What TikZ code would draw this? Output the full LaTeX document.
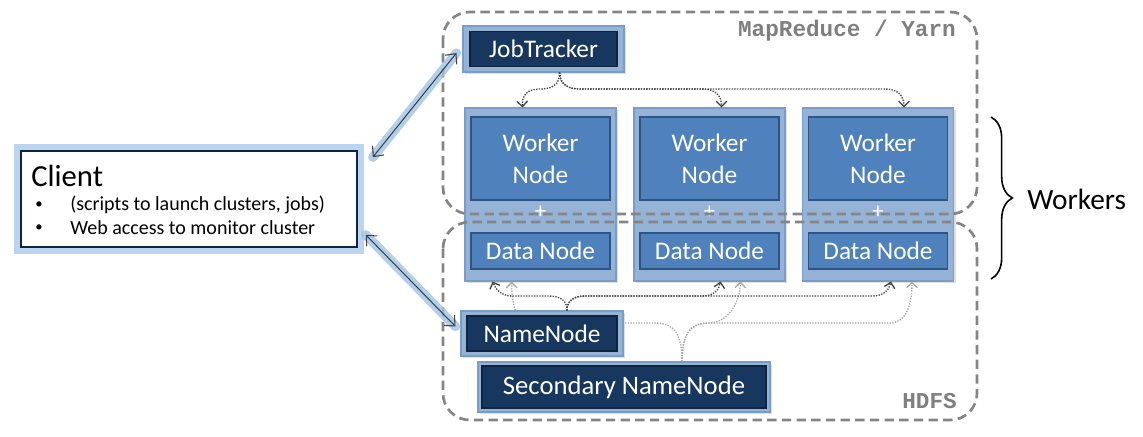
\documentclass[tikz,border=0pt]{standalone}
\usepackage{fontspec}
\setmainfont{Carlito}
\newfontfamily\codefont{Liberation Mono}
\usetikzlibrary{arrows.meta,calc,shadows,decorations.pathreplacing}
\definecolor{lightfill}{HTML}{95B3D7}
\definecolor{lightborder}{HTML}{7A9CC6}
\definecolor{midfill}{HTML}{4F81BD}
\definecolor{midborder}{HTML}{2F5383}
\definecolor{navy}{HTML}{17375E}
\definecolor{navyborder}{HTML}{0F243E}
\definecolor{dashgray}{HTML}{858585}
\definecolor{dotdark}{HTML}{404040}
\definecolor{dotlight}{HTML}{A6A6A6}
\definecolor{glowblue}{HTML}{9DC3E6}
\definecolor{labelgray}{HTML}{7F7F7F}
\begin{document}
\begin{tikzpicture}[x=0.75pt,y=-0.75pt,
  outerbox/.style={draw=lightborder, fill=lightfill, line width=0.8pt, inner sep=0pt,
    drop shadow={shadow xshift=1.5pt,shadow yshift=-1.5pt,opacity=0.25}},
  midbox/.style={draw=midborder, fill=midfill, line width=0.8pt, inner sep=0pt, text=white,
    font=\fontsize{19}{24}\selectfont, align=center},
  navybox/.style={draw=navyborder, fill=navy, line width=0.8pt, inner sep=0pt, text=white,
    font=\fontsize{19}{24}\selectfont},
  regionbox/.style={draw=dashgray, line width=2pt, dash pattern=on 7pt off 4pt, rounded corners=20pt},
  regionlabel/.style={text=labelgray, font=\codefont\bfseries\fontsize{17}{20}\selectfont, inner sep=0pt},
  dk/.style={draw=dotdark, line width=1pt, densely dotted, -{Straight Barb[length=4pt,width=8pt]}},
  lt/.style={draw=dotlight, line width=1pt, densely dotted, -{Straight Barb[length=4pt,width=8pt]}},
  glowline/.style={draw=glowblue, line width=7pt, opacity=0.8, line cap=round},
  clientarrow/.style={draw=dotdark, line width=0.8pt, {Straight Barb[length=6pt,width=11pt]}-{Straight Barb[length=6pt,width=11pt]}},
  pluslabel/.style={text=white, font=\fontsize{17}{17}\selectfont, inner sep=0pt},
  clienttext/.style={anchor=west, inner sep=0pt, font=\fontsize{15}{18}\selectfont},
  bullettext/.style={anchor=west, inner sep=0pt, font=\fontsize{11}{18}\selectfont}
]
\useasboundingbox (0,0) rectangle (1143,436);

% columns
\foreach \i/\cx in {1/540.5, 2/709.5, 3/878} {
  \node[outerbox, minimum width=113.25pt, minimum height=129.75pt] (c\i) at (\cx,194.5) {};
  \node[midbox, minimum width=104.25pt, minimum height=62.25pt] (w\i) at (\cx,158.5) {Worker\\Node};
  \node[pluslabel] (p\i) at (\cx,212) {+};
  \node[midbox, minimum width=104.25pt, minimum height=27pt] (d\i) at (\cx,251) {Data Node};
}

% JobTracker
\node[outerbox, minimum width=120.75pt, minimum height=34.5pt] (jt) at (543.5,49) {};
\node[navybox, minimum width=110.25pt, minimum height=26.25pt] (jti) at (543.5,49) {JobTracker};

% Secondary NameNode
\node[outerbox, minimum width=219pt, minimum height=37.5pt] (sn) at (624,387) {};
\node[navybox, minimum width=213pt, minimum height=31.5pt, font=\fontsize{20}{24}\selectfont] (sni) at (624,387) {Secondary NameNode};

% light dotted (secondary -> data nodes), behind NameNode
\coordinate (snout) at ($(sn.north)+(58,0)$);
\coordinate (l1a) at ($(c1.south)+(-29,0)$);
\coordinate (l2a) at ($(c2.south)+(31,0)$);
\coordinate (l3a) at ($(c3.south)+(34,0)$);
\draw[lt] (snout) .. controls (682,335) and (675,323) .. (655,323) -- (530,323) .. controls (514,323) and (512,300) .. (l1a);
\draw[lt] (snout) .. controls (682,335) and (690,323) .. (708,323) .. controls (730,323) and (740,300) .. (l2a);
\draw[lt] (snout) .. controls (682,335) and (690,323) .. (708,323) -- (890,323) .. controls (906,323) and (912,305) .. (l3a);

% NameNode
\node[outerbox, minimum width=121.5pt, minimum height=33.75pt] (nn) at (542,333.5) {};
\node[navybox, minimum width=112.5pt, minimum height=26.25pt] (nni) at (542,333.5) {NameNode};

% dark dotted JobTracker -> workers
\coordinate (jtout) at ($(jt.south)+(16,0)$);
\coordinate (w1t) at ($(c1.north)+(-18,0)$);
\coordinate (w2t) at ($(c2.north)+(12,0)$);
\coordinate (w3t) at ($(c3.north)+(26,0)$);
\draw[dk] (jtout) .. controls (560,86) and (550,89) .. (540,89) .. controls (526,89) and (522,96) .. (w1t);
\draw[dk] (jtout) .. controls (560,86) and (570,89) .. (580,89) -- (702,89) .. controls (716,89) and (721.5,96) .. (w2t);
\draw[dk] (jtout) .. controls (560,86) and (570,89) .. (580,89) -- (885,89) .. controls (898,89) and (904,96) .. (w3t);

% dark dotted NameNode -> data nodes
\coordinate (nnout) at ($(nn.north)+(25,0)$);
\coordinate (d1a) at ($(c1.south)+(-48,0)$);
\coordinate (d2a) at ($(c2.south)+(11,0)$);
\coordinate (d3a) at ($(c3.south)+(13,0)$);
\draw[dk] (nnout) .. controls (567,300) and (560,296) .. (548,296) -- (512,296) .. controls (502,296) and (496,290) .. (d1a);
\draw[dk] (nnout) .. controls (567,300) and (574,296) .. (586,296) -- (702,296) .. controls (714,296) and (719,290) .. (d2a);
\draw[dk] (nnout) .. controls (567,300) and (574,296) .. (586,296) -- (872,296) .. controls (884,296) and (889,290) .. (d3a);

% region boxes
\draw[regionbox] (443,12) rectangle (977,214);
\draw[regionbox] (443,222) rectangle (977,420);
\node[regionlabel, anchor=east] (mrlabel) at (956,31) {MapReduce / Yarn};
\node[regionlabel, anchor=east] (hdfslabel) at (957,401) {HDFS};

% Client
\node[draw=navyborder, line width=1.2pt, preaction={draw=glowblue, line width=11pt, opacity=0.7},
      fill=white, minimum width=252pt, minimum height=72pt, inner sep=0pt] (client) at (189,199) {};
\node[anchor=west, inner sep=0pt, font=\fontsize{23}{26}\selectfont] (clienttitle) at (31,176) {Client};
\node[bullettext] (b1) at (35,205) {•};
\node[clienttext] (t1) at (70,205) {(scripts to launch clusters, jobs)};
\node[bullettext] (b2) at (35,228) {•};
\node[clienttext] (t2) at (70,228) {Web access to monitor cluster};

% client arrows
\coordinate (ca1) at ($(client.north east)+(15,7)$);
\coordinate (jta) at ($(jt.west)+(-6,4)$);
\coordinate (ca2) at ($(client.south east)+(8,-13)$);
\coordinate (nna) at ($(nn.west)+(-5,-7)$);
\draw[glowline] (ca1) -- (jta);
\draw[glowline] (ca2) -- (nna);
\draw[clientarrow] (ca1) -- (jta);
\draw[clientarrow] (ca2) -- (nna);

% Workers brace
\draw[line width=1.2pt, decorate, decoration={brace, amplitude=16pt}] (991,117) -- (991,279);
\node[anchor=west, inner sep=0pt, font=\fontsize{22}{26}\selectfont] (workers) at (1027,199) {Workers};
\end{tikzpicture}
\end{document}
